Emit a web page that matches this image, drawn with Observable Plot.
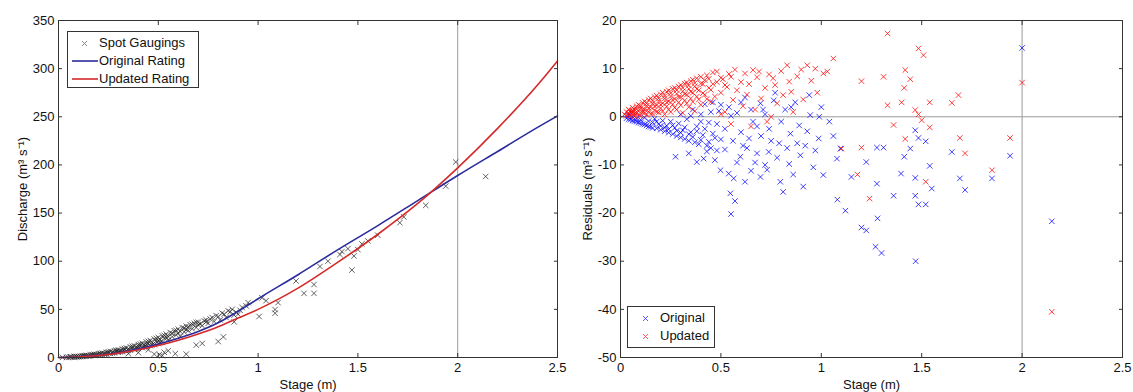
<!DOCTYPE html>
<html><head><meta charset="utf-8">
<script src="https://cdn.jsdelivr.net/npm/d3@7"></script>
<script src="https://cdn.jsdelivr.net/npm/@observablehq/plot@0.6"></script>
<style>
body{margin:0;background:#fff;}
#wrap{position:relative;width:1133px;height:392px;display:flex;}
.legend{position:absolute;background:#fff;border:1px solid #333;font:13px "Liberation Sans",Arial,sans-serif;color:#111;box-sizing:border-box;}
.legend .row{position:absolute;left:0;height:16px;line-height:16px;white-space:nowrap;}
.legend svg{position:absolute;top:0;}
.legend span{position:absolute;}
</style></head><body>
<div id="wrap"></div>
<script>
// ---------- data ----------
const stageTicks = [0, 0.5, 1, 1.5, 2, 2.5];
const dischargeTicks = [0, 50, 100, 150, 200, 250, 300, 350];
const residualTicks = [-50, -40, -30, -20, -10, 0, 10, 20];
const leftRefStage = [2];
const rightRefStage = [2];
const rightRefResidual = [0];

const ratingStage    = [0, 0.1, 0.2, 0.3, 0.4, 0.5, 0.6, 0.7, 0.8, 0.9, 1.0, 1.2, 1.4, 1.6, 1.8, 2.0, 2.2, 2.4, 2.5];
const ratingOriginal = [0, 0.6, 2.2, 5, 9, 14, 20, 27, 36, 48, 61, 86, 112, 137, 163, 189, 214, 239, 251];
const ratingUpdated  = [0, 0.5, 2, 4.5, 8, 12.5, 18, 24.5, 32, 41, 50, 72, 99, 128, 160, 197, 238, 283, 308];

const gaugings = [
 [0.02,0.1],[0.04,0.3],[0.05,0.2],[0.06,0.5],[0.07,0.4],[0.08,0.9],[0.09,0.6],[0.10,1.1],[0.10,0.7],[0.11,1.3],
 [0.12,1.0],[0.12,1.8],[0.13,1.5],[0.14,2.2],[0.14,1.3],[0.15,2.0],[0.16,2.7],[0.16,1.7],[0.17,2.4],[0.18,3.3],
 [0.18,2.1],[0.19,3.0],[0.20,3.9],[0.20,2.5],[0.21,3.5],[0.22,4.6],[0.22,3.0],[0.23,4.1],[0.24,5.4],[0.24,3.6],
 [0.25,4.8],[0.26,6.2],[0.26,4.2],[0.27,5.5],[0.28,7.0],[0.28,4.8],[0.29,6.3],[0.30,7.9],[0.30,5.4],[0.31,7.1],
 [0.32,8.8],[0.32,6.1],[0.33,8.0],[0.34,9.9],[0.34,6.8],[0.35,8.9],[0.36,11.0],[0.36,7.6],[0.37,9.9],[0.38,12.1],
 [0.38,8.4],[0.39,11.0],[0.40,13.4],[0.40,9.3],[0.41,12.1],[0.42,14.7],[0.42,10.2],[0.43,13.2],[0.44,16.1],[0.44,11.2],
 [0.45,14.5],[0.46,17.6],[0.46,12.3],[0.47,15.8],[0.48,19.1],[0.48,13.4],[0.49,17.2],[0.50,20.8],[0.50,14.5],[0.51,18.6],
 [0.52,22.5],[0.52,15.7],[0.53,20.1],[0.54,24.2],[0.55,18.0],[0.56,25.9],[0.57,21.5],[0.58,27.8],[0.59,23.4],[0.60,29.5],
 [0.61,22.0],[0.62,31.0],[0.63,26.5],[0.64,32.5],[0.65,28.0],[0.66,34.0],[0.67,29.8],[0.68,35.5],[0.69,31.2],[0.70,36.5],
 [0.72,33.0],[0.73,38.0],[0.75,35.5],[0.76,40.0],[0.78,37.5],[0.80,42.5],[0.81,39.0],[0.83,45.0],[0.84,41.5],[0.86,47.5],
 [0.88,44.0],
 [0.06,0.8],[0.08,0.5],[0.09,1.1],[0.11,0.9],[0.13,1.9],[0.15,1.5],[0.17,3.0],[0.19,2.4],[0.21,4.3],[0.23,3.3],
 [0.25,5.9],[0.27,4.5],[0.29,7.5],[0.31,5.9],[0.33,9.4],[0.35,7.3],[0.37,11.6],[0.39,9.1],[0.41,14.0],[0.43,11.0],
 [0.45,16.8],[0.47,13.2],[0.49,19.8],[0.51,15.5],[0.53,23.0],[0.55,21.5],[0.57,25.0],[0.59,28.0],[0.61,27.0],[0.63,30.5],
 [0.65,32.0],[0.67,34.5],[0.69,36.5],[0.71,35.0],[0.74,39.0],[0.77,41.5],[0.79,43.5],[0.82,46.0],[0.85,48.5],[0.87,50.0],
 [0.89,47.0],[0.91,49.0],[0.30,6.5],[0.40,11.5],[0.50,17.5],[0.60,25.5],[0.70,34.0],[0.44,13.5],[0.54,21.0],[0.64,29.0],
 [0.74,37.0],
 [0.35,4.0],[0.40,5.0],[0.45,8.0],[0.48,3.5],[0.505,3.0],[0.52,1.9],[0.53,5.4],[0.55,7.0],[0.585,4.0],[0.64,3.5],
 [0.69,12.9],[0.72,14.6],[0.80,16.6],[0.826,21.4],
 [0.88,37.0],[0.90,45.0],[0.92,52.0],[0.94,53.6],[0.95,57.0],[1.005,42.6],[1.02,62.0],[1.04,59.0],[1.085,49.8],[1.085,46.0],
 [1.10,57.0],[1.19,79.5],[1.23,66.6],[1.28,75.8],[1.28,66.6],[1.31,94.5],[1.35,100.0],[1.41,107.0],[1.42,110.0],[1.45,113.0],
 [1.47,90.8],[1.48,105.5],[1.50,112.0],[1.52,118.0],[1.55,121.0],[1.60,127.0],[1.71,140.0],[1.73,146.0],[1.84,158.0],[1.94,178.0],
 [1.99,203.0],[2.14,188.0]
];

const residOriginal = [
 [0.03,-0.3],[0.04,0.2],[0.05,-0.6],[0.06,0.0],[0.07,-0.9],[0.08,-0.3],[0.09,-1.2],[0.10,-0.6],[0.11,-1.5],[0.12,-0.2],
 [0.13,-1.8],[0.14,-0.9],[0.15,-2.1],[0.16,-1.2],[0.17,-0.4],[0.18,-2.4],[0.19,-1.5],[0.20,-2.7],[0.21,-0.8],[0.22,-3.0],
 [0.23,-1.9],[0.24,-3.3],[0.25,-1.0],[0.26,-3.6],[0.27,-2.3],[0.28,-4.0],[0.29,-1.4],[0.30,-4.3],[0.31,-2.8],[0.32,-4.6],
 [0.33,-0.5],[0.34,-5.0],[0.35,-3.2],[0.36,1.5],[0.37,-5.3],[0.38,-2.0],[0.39,-5.7],[0.40,0.5],[0.41,-3.8],[0.42,2.6],
 [0.43,-6.0],[0.44,-1.2],[0.45,-6.5],[0.46,3.0],[0.47,-4.4],[0.48,-7.0],[0.49,1.2],[0.274,-8.3],[0.34,-7.6],[0.38,-9.4],
 [0.414,-8.7],[0.498,-11.1],[0.539,-11.8],[0.564,-12.8],[0.547,-15.9],[0.55,-20.2],[0.597,-8.3],[0.68,-7.6],[0.697,-12.5],[0.738,-7.3],
 [0.796,-13.5],[0.81,-15.6],[0.846,-3.5],[0.896,-8.0],[0.987,-4.5],[1.01,-12.1],[1.078,-8.7],[1.095,-6.6],[0.697,2.8],[0.763,3.4],
 [0.945,0.35],[0.99,0.0],[0.52,-2.5],[0.54,2.0],[0.56,-5.0],[0.58,0.8],[0.60,-3.2],[0.62,4.0],[0.63,-6.5],[0.65,1.5],
 [0.66,-1.0],[0.67,-9.5],[0.70,-4.0],[0.72,0.5],[0.74,-2.5],[0.77,5.0],[0.79,-5.5],[0.82,1.5],[0.84,-9.8],[0.87,3.0],
 [0.89,-1.8],[0.92,-6.0],[0.94,4.5],[0.96,-10.5],[1.00,2.0],[1.04,-1.0],[1.06,-4.0],[0.57,-17.5],[0.62,-13.5],[0.65,-11.2],
 [0.72,-10.0],[0.86,-12.0],[0.91,-14.5],[1.08,-17.2],[1.12,-19.5],[1.15,-12.5],
 [0.04,-0.5],[0.06,-0.8],[0.08,-1.0],[0.10,-1.3],[0.12,-1.6],[0.14,-2.0],[0.16,-2.3],[0.18,-1.0],[0.20,-1.9],[0.22,-2.2],
 [0.24,-2.6],[0.26,-1.8],[0.28,-2.9],[0.30,-3.3],[0.32,-2.2],[0.34,-3.6],[0.36,-4.2],[0.38,-3.0],[0.40,-4.8],[0.42,-2.5],
 [0.44,-5.2],[0.46,-3.5],[0.48,-1.5],[0.50,-4.7],[0.52,-6.8],[0.30,0.5],[0.35,0.2],[0.40,-1.0],[0.45,1.0],[0.50,2.5],
 [0.55,0.2],[0.60,3.0],[0.64,-4.5],[0.68,-2.0],[0.71,1.5],[0.75,-5.0],[0.80,-1.0],[0.85,2.0],[0.88,-5.5],[0.93,-3.0],
 [0.97,-7.0],[0.58,-9.5],[0.61,-6.0],[0.73,-11.0],[0.78,-8.5],[0.83,-6.5],[0.47,-9.0],[0.43,-7.2],
 [2.0,14.3],[1.468,-2.8],[1.484,-4.4],[1.52,-5.1],[1.277,-6.4],[1.31,-6.4],[1.443,-6.6],[1.65,-7.3],[1.94,-8.1],[1.224,-9.4],
 [1.413,-8.3],[1.54,-10.2],[1.85,-12.8],[1.397,-11.8],[1.468,-12.7],[1.69,-12.8],[1.277,-13.9],[1.55,-14.9],[1.716,-15.2],[1.36,-16.4],
 [1.468,-16.4],[1.484,-18.2],[1.52,-18.2],[1.28,-21.1],[1.224,-23.6],[2.148,-21.7],[1.27,-27.0],[1.30,-28.3],[1.47,-30.0],[1.20,-23.0]
];

const residUpdated = [
 [0.02,0.5],[0.03,1.0],[0.03,0.2],[0.04,0.8],[0.04,1.5],[0.05,0.3],[0.05,1.2],[0.06,0.9],[0.06,1.9],[0.07,0.1],
 [0.07,1.5],[0.08,2.2],[0.08,0.7],[0.09,1.2],[0.09,2.5],[0.10,0.2],[0.10,1.8],[0.11,2.9],[0.11,0.9],[0.12,1.5],
 [0.12,3.2],[0.13,0.4],[0.13,2.3],[0.14,3.5],[0.14,1.1],[0.15,2.0],[0.15,3.8],[0.16,0.6],[0.16,2.8],[0.17,4.1],
 [0.17,1.4],[0.18,2.4],[0.18,4.4],[0.19,0.9],[0.19,3.3],[0.20,4.7],[0.20,1.8],[0.21,2.8],[0.21,5.0],[0.22,0.5],
 [0.22,3.8],[0.23,5.2],[0.23,2.2],[0.24,3.2],[0.24,5.5],[0.25,1.0],[0.25,4.3],[0.26,5.8],[0.26,2.6],[0.27,3.7],
 [0.27,6.0],[0.28,1.5],[0.28,4.8],[0.29,6.3],[0.29,3.0],[0.30,4.1],[0.30,6.6],[0.31,0.8],[0.31,5.3],[0.32,6.9],
 [0.32,3.4],[0.33,4.6],[0.33,7.1],[0.34,2.0],[0.34,5.8],[0.35,7.4],[0.35,3.8],[0.36,5.0],[0.36,7.7],[0.37,1.2],
 [0.37,6.3],[0.38,8.0],[0.38,4.2],[0.39,5.5],[0.40,8.3],[0.40,2.5],[0.41,6.8],[0.42,4.6],[0.43,8.6],[0.44,6.0],
 [0.45,3.1],
 [0.04,0.4],[0.05,0.9],[0.06,1.3],[0.07,0.7],[0.08,1.6],[0.09,0.4],[0.10,2.2],[0.11,1.4],[0.12,0.8],[0.13,2.8],
 [0.14,1.8],[0.15,0.6],[0.16,3.3],[0.17,2.2],[0.18,1.0],[0.19,3.8],[0.20,2.5],[0.21,1.2],[0.22,4.3],[0.23,3.0],
 [0.24,1.5],[0.25,4.9],[0.26,3.5],[0.27,1.9],[0.28,5.5],[0.29,4.1],[0.30,2.4],[0.31,6.0],[0.32,4.7],[0.33,2.8],
 [0.34,6.5],[0.35,5.2],[0.36,3.1],[0.37,7.0],[0.38,5.8],[0.39,3.6],[0.40,6.9],[0.41,4.9],[0.42,7.6],[0.43,3.7],
 [0.44,7.9],[0.45,5.6],[0.46,6.8],[0.47,4.2],[0.48,7.2],[0.50,8.1],[0.52,6.6],[0.54,8.9],
 [0.46,9.2],[0.48,9.4],[0.50,5.0],[0.51,7.8],[0.52,1.0],[0.53,6.2],[0.55,8.3],[0.56,3.5],[0.57,9.8],[0.58,5.5],
 [0.60,7.2],[0.61,2.2],[0.62,9.0],[0.63,4.6],[0.64,6.8],[0.66,9.7],[0.67,1.5],[0.68,8.2],[0.69,9.4],[0.70,3.8],
 [0.72,6.0],[0.73,-1.0],[0.74,8.8],[0.76,8.0],[0.77,6.6],[0.78,2.8],[0.80,9.5],[0.81,4.5],[0.83,10.7],[0.84,7.3],
 [0.85,5.2],[0.86,1.0],[0.88,8.4],[0.90,9.8],[0.91,3.6],[0.93,10.7],[0.95,7.5],[0.97,10.0],[0.98,5.0],[1.01,9.0],
 [1.03,9.4],[1.06,12.1],[0.55,-1.5],[0.65,-2.0],[0.75,0.0],[0.50,0.5],
 [1.20,7.4],[1.31,8.3],[1.33,17.3],[1.418,9.7],[1.443,7.8],[1.413,6.0],[1.484,14.2],[1.509,12.8],[2.0,7.1],[1.683,4.5],
 [1.65,2.9],[1.33,2.4],[1.40,3.0],[1.54,3.0],[1.468,1.4],[1.484,0.5],[1.50,-0.7],[1.36,-1.7],[1.54,-2.2],[2.148,-40.5],
 [1.94,-4.4],[1.69,-4.4],[1.418,-4.6],[1.20,-6.4],[1.85,-11.1],[1.716,-7.6],[1.10,-6.6],[1.24,-17.0],[1.18,-12.0],[1.52,-13.5]
];

// ---------- rendering ----------
const FONT = '"Liberation Sans", Arial, Helvetica, sans-serif';
const fmt = d => String(d);
const none = () => "";
const style = {fontFamily: FONT, fontSize: "13px", color: "#111", background: "white", overflow: "visible"};

function boxAxes(yTicks, yLabel, yLabelOffset) {
  return [
    Plot.axisX(stageTicks, {anchor: "bottom", tickSize: 0, tickPadding: 5, tickFormat: fmt, label: "Stage (m)", labelAnchor: "center", labelOffset: 31, labelArrow: "none"}),
    Plot.axisX(stageTicks, {anchor: "bottom", tickSize: 4, dy: -4, tickFormat: none, label: null, stroke: "#333"}),
    Plot.axisX(stageTicks, {anchor: "top", tickSize: 4, dy: 4, tickFormat: none, label: null, stroke: "#333"}),
    Plot.axisY(yTicks, {anchor: "left", tickSize: 0, tickPadding: 4, tickFormat: fmt, label: yLabel, labelAnchor: "center", labelOffset: yLabelOffset, labelArrow: "none"}),
    Plot.axisY(yTicks, {anchor: "left", tickSize: 4, dx: 4, tickFormat: none, label: null, stroke: "#333"}),
    Plot.axisY(yTicks, {anchor: "right", tickSize: 4, dx: -4, tickFormat: none, label: null, stroke: "#333"})
  ];
}

const origLine = ratingStage.map((h, i) => ({h, q: ratingOriginal[i]}));
const updLine = ratingStage.map((h, i) => ({h, q: ratingUpdated[i]}));

const left = Plot.plot({
  width: 575, height: 392,
  marginLeft: 58, marginRight: 18, marginTop: 20, marginBottom: 35,
  style,
  x: {domain: [0, 2.5]},
  y: {domain: [0, 350]},
  marks: [
    Plot.ruleX(leftRefStage, {stroke: "#9a9a9a", strokeWidth: 1}),
    Plot.dot(gaugings, {x: d => d[0], y: d => d[1], symbol: "times", r: 2.6, stroke: "#222", strokeWidth: 1, strokeOpacity: 0.7}),
    Plot.line(origLine, {x: "h", y: "q", stroke: "#2b2b9e", strokeWidth: 1.6, curve: "monotone-x"}),
    Plot.line(updLine, {x: "h", y: "q", stroke: "#d42a2a", strokeWidth: 1.6, curve: "monotone-x"}),
    Plot.frame({stroke: "#333"}),
    ...boxAxes(dischargeTicks, "Discharge (m³ s⁻¹)", 41)
  ]
});

const right = Plot.plot({
  width: 558, height: 392,
  marginLeft: 45, marginRight: 11, marginTop: 20, marginBottom: 35,
  style,
  x: {domain: [0, 2.5]},
  y: {domain: [-50, 20]},
  marks: [
    Plot.ruleX(rightRefStage, {stroke: "#9a9a9a", strokeWidth: 1}),
    Plot.ruleY(rightRefResidual, {stroke: "#9a9a9a", strokeWidth: 1}),
    Plot.dot(residOriginal, {x: d => d[0], y: d => d[1], symbol: "times", r: 2.6, stroke: "#0000ff", strokeWidth: 1, strokeOpacity: 0.75}),
    Plot.dot(residUpdated, {x: d => d[0], y: d => d[1], symbol: "times", r: 2.6, stroke: "#ff0000", strokeWidth: 1, strokeOpacity: 0.75}),
    Plot.frame({stroke: "#333"}),
    ...boxAxes(residualTicks, "Residuals (m³ s⁻¹)", 38)
  ]
});

const wrap = document.getElementById("wrap");
wrap.append(left, right);

// legends (HTML overlays)
function xMark(color) {
  return `<svg width="7" height="7" viewBox="-3.5 -3.5 7 7"><path d="M-2.5,-2.5L2.5,2.5M-2.5,2.5L2.5,-2.5" stroke="${color}" stroke-width="0.9" opacity="0.7"/></svg>`;
}
function lineMark(color) {
  return `<svg width="26" height="4" viewBox="0 0 26 4"><path d="M0,2H26" stroke="${color}" stroke-width="1.6"/></svg>`;
}
const leg1 = document.createElement("div");
leg1.className = "legend";
Object.assign(leg1.style, {left: "67px", top: "31px", width: "132px", height: "57px"});
const rows1 = [
  {text: "Spot Gaugings", sym: xMark("#444"), symLeft: 13, symTop: 4.5},
  {text: "Original Rating", sym: lineMark("#2b2b9e"), symLeft: 4, symTop: 6},
  {text: "Updated Rating", sym: lineMark("#d42a2a"), symLeft: 4, symTop: 6}
];
rows1.forEach((r, i) => {
  const row = document.createElement("div");
  row.className = "row";
  row.style.top = (3 + i * 18) + "px";
  row.innerHTML = `<div style="position:absolute;left:${r.symLeft}px;top:${r.symTop}px;line-height:0">${r.sym}</div><span style="left:31px;top:0">${r.text}</span>`;
  leg1.append(row);
});
wrap.append(leg1);

const leg2 = document.createElement("div");
leg2.className = "legend";
Object.assign(leg2.style, {left: "627px", top: "306px", width: "88px", height: "42px"});
const rows2 = [
  {text: "Original", color: "#0000ff"},
  {text: "Updated", color: "#ff0000"}
];
rows2.forEach((r, i) => {
  const row = document.createElement("div");
  row.className = "row";
  row.style.top = (3 + i * 18) + "px";
  row.innerHTML = `<div style="position:absolute;left:14px;top:4.5px;line-height:0">${xMark(r.color)}</div><span style="left:32px;top:0">${r.text}</span>`;
  leg2.append(row);
});
wrap.append(leg2);
</script>
</body></html>
